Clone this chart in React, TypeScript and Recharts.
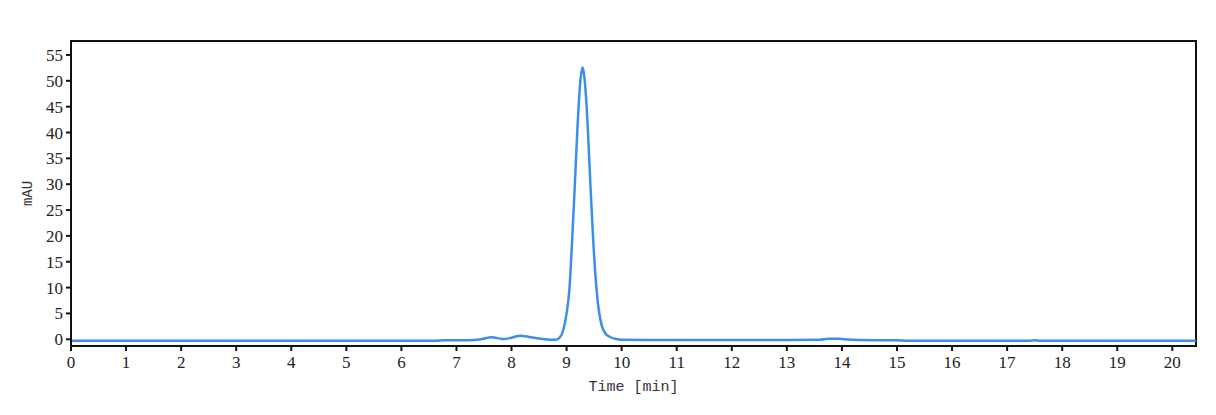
import { LineChart, Line, XAxis, YAxis, ReferenceArea } from 'recharts';

// retention time (min) and absorbance (mAU)
const times = [
  0, 1, 2, 3, 4, 5, 6, 6.6, 6.8, 7.2, 7.45, 7.64, 7.85, 8.0, 8.16, 8.35, 8.6, 8.8,
  8.88, 8.94, 9.0, 9.05, 9.1, 9.15, 9.2, 9.25, 9.29, 9.33, 9.38, 9.43, 9.48, 9.53,
  9.58, 9.64, 9.7, 9.78, 9.88, 10.0, 10.5, 11, 12, 13, 13.6, 13.75, 13.95, 14.1,
  14.3, 15.0, 15.2, 16, 17, 17.4, 17.5, 17.6, 18, 19, 20, 20.43,
];
const mAU = [
  -0.3, -0.3, -0.3, -0.3, -0.3, -0.3, -0.3, -0.3, -0.2, -0.2, 0.0, 0.4, 0.05, 0.3, 0.7, 0.4, 0.0, -0.1,
  0.4, 1.8, 5.0, 9.5, 19.0, 30.0, 41.5, 50.0, 52.6, 50.0, 41.9, 30.5, 19.8, 11.5,
  6.0, 2.6, 1.2, 0.5, 0.1, -0.1, -0.15, -0.15, -0.15, -0.15, -0.1, 0.1, 0.1, -0.05,
  -0.15, -0.2, -0.3, -0.3, -0.3, -0.3, -0.2, -0.3, -0.3, -0.3, -0.3, -0.3,
];
const xTicks = [0, 1, 2, 3, 4, 5, 6, 7, 8, 9, 10, 11, 12, 13, 14, 15, 16, 17, 18, 19, 20];
const yTicks = [0, 5, 10, 15, 20, 25, 30, 35, 40, 45, 50, 55];

const data = times.map((t, i) => ({ t, v: mAU[i] }));

const tickStyle = { fill: '#222', fontSize: 17, fontFamily: 'Liberation Serif' };
const monoFont = "'Liberation Mono', 'Courier New', monospace";

export default function App() {
  return (
    <div style={{ position: 'fixed', left: 0, top: 0, width: 1216, height: 415, background: '#fff' }}>
      <LineChart
        width={1216}
        height={415}
        data={data}
        margin={{ top: 41, right: 20, bottom: 24, left: 10 }}
      >
        <XAxis
          dataKey="t"
          type="number"
          domain={[0, 20.43]}
          ticks={xTicks}
          allowDataOverflow
          height={45}
          tickSize={5}
          tickMargin={5}
          tick={tickStyle}
          axisLine={{ stroke: '#111', strokeWidth: 2 }}
          tickLine={{ stroke: '#111', strokeWidth: 2 }}
          label={{
            value: 'Time [min]',
            position: 'insideBottom',
            offset: 0,
            fontFamily: monoFont,
            fontSize: 15,
            fill: '#333',
            style: { fill: '#333', fontSize: 15, fontFamily: monoFont },
          }}
        />
        <YAxis
          type="number"
          domain={[-1.3, 57.7]}
          ticks={yTicks}
          allowDataOverflow
          width={61}
          tickSize={5}
          tickMargin={3}
          tick={tickStyle}
          axisLine={{ stroke: '#111', strokeWidth: 2 }}
          tickLine={{ stroke: '#111', strokeWidth: 2 }}
          label={{
            value: 'mAU',
            angle: -90,
            position: 'insideLeft',
            offset: 17,
            fontFamily: monoFont,
            fontSize: 14,
            fill: '#333',
            style: { textAnchor: 'middle', fill: '#333', fontSize: 14, fontFamily: monoFont },
          }}
        />
        <ReferenceArea
          x1={0}
          x2={20.43}
          y1={-1.3}
          y2={57.7}
          fill="none"
          stroke="#111"
          strokeWidth={2}
          strokeOpacity={1}
          ifOverflow="visible"
        />
        <Line
          type="monotone"
          dataKey="v"
          stroke="#3b8fe8"
          strokeWidth={2.5}
          dot={false}
          isAnimationActive={false}
        />
      </LineChart>
    </div>
  );
}
